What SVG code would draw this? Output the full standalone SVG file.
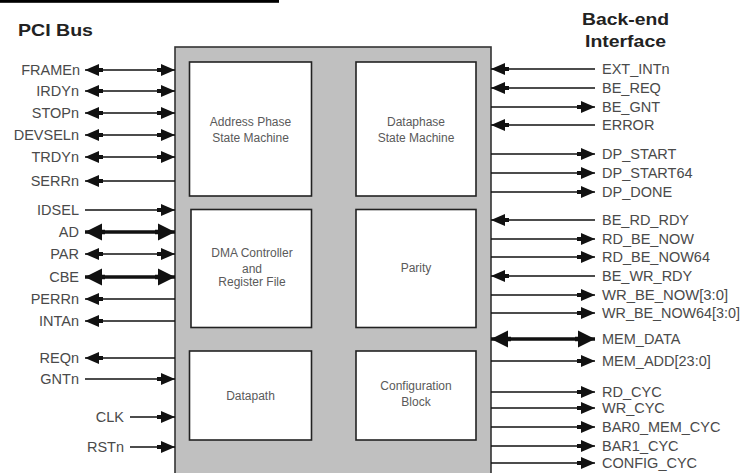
<svg xmlns="http://www.w3.org/2000/svg" width="745" height="473" viewBox="0 0 745 473">
<style>
.sig{font-family:"Liberation Sans",Arial,sans-serif;font-size:14.5px;fill:#4a4a4a}
.l{text-anchor:end}
.ttl{font-family:"Liberation Sans",Arial,sans-serif;font-size:17px;font-weight:bold;fill:#222}
.blk{fill:#fff;stroke:#222;stroke-width:1.6}
.bt{font-family:"Liberation Sans",Arial,sans-serif;font-size:12px;fill:#5a5a5a;text-anchor:middle}
.w{stroke:#111;stroke-width:1.6;fill:none}
.t{stroke:#111;stroke-width:3.6;fill:none}
.in{marker-end:url(#a)}
.bi{marker-start:url(#a);marker-end:url(#a)}
.tb{marker-start:url(#b);marker-end:url(#b)}
</style>
<defs>
<marker id="a" markerUnits="userSpaceOnUse" markerWidth="19" markerHeight="13" refX="18" refY="6.5" orient="auto-start-reverse">
<path d="M0,4.6 L4,4.6 L4,0.5 L18,6.5 L4,12.5 L4,8.4 L0,8.4 z" fill="#111"/>
</marker>
<marker id="b" markerUnits="userSpaceOnUse" markerWidth="21" markerHeight="18" refX="20" refY="9" orient="auto-start-reverse">
<path d="M0,6.8 L3,6.8 L3,0.5 L20,9 L3,17.5 L3,11.2 L0,11.2 z" fill="#111"/>
</marker>
</defs>
<rect width="745" height="473" fill="#fff"/>
<rect x="0" y="0" width="279" height="2.8" fill="#000"/>

<text class="ttl" x="18" y="36" textLength="75" lengthAdjust="spacingAndGlyphs">PCI Bus</text>
<text class="ttl" x="582" y="25" textLength="87" lengthAdjust="spacingAndGlyphs">Back-end</text>
<text class="ttl" x="585" y="47" textLength="81" lengthAdjust="spacingAndGlyphs">Interface</text>

<g id="core">
<rect x="175" y="47" width="316" height="440" fill="#c0c0c0" stroke="#333" stroke-width="1.6"/>
</g>
<g id="address-phase">
<rect class="blk" x="189.5" y="62" width="122" height="134"/>
<text class="bt" x="250.5" y="125.5">Address Phase</text>
<text class="bt" x="250.5" y="141.5">State Machine</text>
</g>
<g id="dataphase">
<rect class="blk" x="356" y="62" width="120" height="134"/>
<text class="bt" x="416" y="125.5">Dataphase</text>
<text class="bt" x="416" y="141.5">State Machine</text>
</g>
<g id="dma">
<rect class="blk" x="191" y="209.5" width="120.5" height="118"/>
<text class="bt" x="252" y="257">DMA Controller</text>
<text class="bt" x="252" y="273">and</text>
<text class="bt" x="252" y="286">Register File</text>
</g>
<g id="parity">
<rect class="blk" x="356" y="209.5" width="120" height="118"/>
<text class="bt" x="416" y="272">Parity</text>
</g>
<g id="datapath">
<rect class="blk" x="189.5" y="351" width="122" height="89"/>
<text class="bt" x="250.5" y="399.5">Datapath</text>
</g>
<g id="configuration">
<rect class="blk" x="356" y="351" width="120" height="89"/>
<text class="bt" x="416" y="390">Configuration</text>
<text class="bt" x="416" y="406">Block</text>
</g>

<g id="connectors">
<line class="w bi" x1="85" y1="70" x2="175" y2="70"/>
<line class="w bi" x1="85" y1="91" x2="175" y2="91"/>
<line class="w bi" x1="85" y1="113" x2="175" y2="113"/>
<line class="w bi" x1="85" y1="135" x2="175" y2="135"/>
<line class="w bi" x1="85" y1="157" x2="175" y2="157"/>
<line class="w in" x1="175" y1="181" x2="85" y2="181"/>
<line class="w in" x1="85" y1="210" x2="175" y2="210"/>
<line class="t tb" x1="85" y1="232" x2="175" y2="232"/>
<line class="w bi" x1="85" y1="254" x2="175" y2="254"/>
<line class="t tb" x1="85" y1="277" x2="175" y2="277"/>
<line class="w in" x1="175" y1="299" x2="85" y2="299"/>
<line class="w in" x1="175" y1="321" x2="85" y2="321"/>
<line class="w in" x1="175" y1="358" x2="85" y2="358"/>
<line class="w in" x1="85" y1="379" x2="175" y2="379"/>
<line class="w in" x1="130" y1="417" x2="175" y2="417"/>
<line class="w in" x1="130" y1="447" x2="175" y2="447"/>
<line class="w in" x1="595" y1="69" x2="491" y2="69"/>
<line class="w in" x1="595" y1="88" x2="491" y2="88"/>
<line class="w in" x1="491" y1="107" x2="595" y2="107"/>
<line class="w in" x1="595" y1="125" x2="491" y2="125"/>
<line class="w in" x1="491" y1="154" x2="595" y2="154"/>
<line class="w in" x1="491" y1="173" x2="595" y2="173"/>
<line class="w in" x1="491" y1="192" x2="595" y2="192"/>
<line class="w in" x1="595" y1="220" x2="491" y2="220"/>
<line class="w in" x1="491" y1="239" x2="595" y2="239"/>
<line class="w in" x1="491" y1="257" x2="595" y2="257"/>
<line class="w in" x1="595" y1="276" x2="491" y2="276"/>
<line class="w in" x1="491" y1="295" x2="595" y2="295"/>
<line class="w in" x1="491" y1="313" x2="595" y2="313"/>
<line class="t tb" x1="491" y1="339" x2="595" y2="339"/>
<line class="w in" x1="491" y1="361" x2="595" y2="361"/>
<line class="w in" x1="491" y1="392" x2="595" y2="392"/>
<line class="w in" x1="491" y1="408" x2="595" y2="408"/>
<line class="w in" x1="491" y1="427" x2="595" y2="427"/>
<line class="w in" x1="491" y1="446" x2="595" y2="446"/>
<line class="w in" x1="491" y1="463" x2="595" y2="463"/>
</g>

<g id="pci-labels">
<text class="sig l" x="80" y="75">FRAMEn</text>
<text class="sig l" x="79" y="96">IRDYn</text>
<text class="sig l" x="79" y="118">STOPn</text>
<text class="sig l" x="79" y="140">DEVSELn</text>
<text class="sig l" x="79" y="162">TRDYn</text>
<text class="sig l" x="79" y="186">SERRn</text>
<text class="sig l" x="79" y="215">IDSEL</text>
<text class="sig l" x="79" y="237">AD</text>
<text class="sig l" x="79" y="259">PAR</text>
<text class="sig l" x="79" y="282">CBE</text>
<text class="sig l" x="79" y="304">PERRn</text>
<text class="sig l" x="79" y="326">INTAn</text>
<text class="sig l" x="79" y="363">REQn</text>
<text class="sig l" x="79" y="384">GNTn</text>
<text class="sig l" x="124" y="422">CLK</text>
<text class="sig l" x="124" y="452">RSTn</text>
</g>
<g id="backend-labels">
<text class="sig" x="602" y="74">EXT_INTn</text>
<text class="sig" x="602" y="93">BE_REQ</text>
<text class="sig" x="602" y="112">BE_GNT</text>
<text class="sig" x="602" y="130">ERROR</text>
<text class="sig" x="602" y="159">DP_START</text>
<text class="sig" x="602" y="178">DP_START64</text>
<text class="sig" x="602" y="197">DP_DONE</text>
<text class="sig" x="602" y="225">BE_RD_RDY</text>
<text class="sig" x="602" y="244">RD_BE_NOW</text>
<text class="sig" x="602" y="262">RD_BE_NOW64</text>
<text class="sig" x="602" y="281">BE_WR_RDY</text>
<text class="sig" x="602" y="300" textLength="126" lengthAdjust="spacingAndGlyphs">WR_BE_NOW[3:0]</text>
<text class="sig" x="602" y="318" textLength="138" lengthAdjust="spacingAndGlyphs">WR_BE_NOW64[3:0]</text>
<text class="sig" x="602" y="344">MEM_DATA</text>
<text class="sig" x="602" y="366">MEM_ADD[23:0]</text>
<text class="sig" x="602" y="397">RD_CYC</text>
<text class="sig" x="602" y="413">WR_CYC</text>
<text class="sig" x="602" y="432">BAR0_MEM_CYC</text>
<text class="sig" x="602" y="451">BAR1_CYC</text>
<text class="sig" x="602" y="468">CONFIG_CYC</text>
</g>
</svg>
